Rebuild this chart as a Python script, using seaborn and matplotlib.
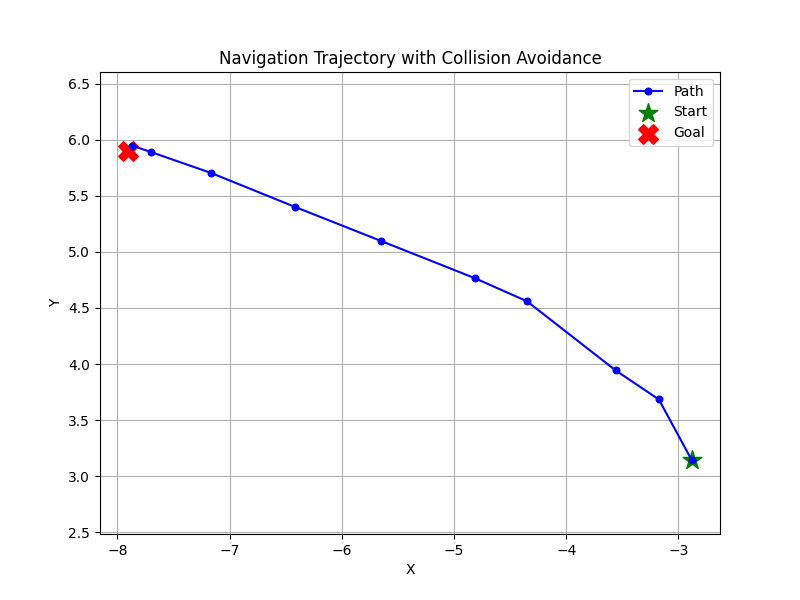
import matplotlib
matplotlib.use("Agg")
import matplotlib.pyplot as plt
import seaborn as sns
import pandas as pd

# trajectory
path_x = [-2.881, -3.175, -3.560, -4.350, -4.813, -5.647, -6.413, -7.164, -7.701, -7.867]
path_y = [3.143, 3.685, 3.944, 4.560, 4.765, 5.096, 5.399, 5.703, 5.890, 5.946]
start_xy = (-2.881, 3.143)
goal_xy = (-7.903, 5.896)

df = pd.DataFrame({"x": path_x, "y": path_y})

fig, ax = plt.subplots(figsize=(8, 6), dpi=100)
sns.lineplot(data=df, x="x", y="y", sort=False, estimator=None, ax=ax,
             color="blue", marker="o", markersize=5, markeredgecolor="blue",
             label="Path", zorder=2)
ax.scatter([start_xy[0]], [start_xy[1]], c="green", marker="*", s=200,
           label="Start", zorder=1)
ax.scatter([goal_xy[0]], [goal_xy[1]], c="red", marker="X", s=200,
           label="Goal", zorder=1)

ax.set_title("Navigation Trajectory with Collision Avoidance")
ax.set_xlabel("X")
ax.set_ylabel("Y")
ax.legend(loc="upper right")
ax.grid(True)
ax.axis("equal")

plt.savefig("out.png", dpi=100)
